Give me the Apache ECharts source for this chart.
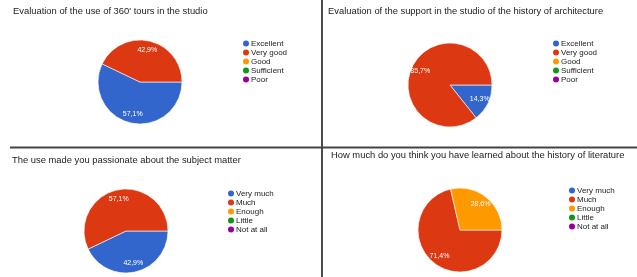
<!DOCTYPE html>
<html><head><meta charset="utf-8">
<script src="https://cdn.jsdelivr.net/npm/echarts@6/dist/echarts.min.js"></script>
<style>html,body{margin:0;padding:0;background:#fff}#c{width:637px;height:277px}</style>
</head><body><div id="c"></div>
<script>
const titles = [
  "Evaluation of the use of 360' tours in the studio",
  "Evaluation of the support in the studio of the history of architecture",
  "The use made you passionate about the subject matter",
  "How much do you think you have learned about the history of literature"
];
const categoriesA = ["Excellent", "Very good", "Good", "Sufficient", "Poor"];
const categoriesB = ["Very much", "Much", "Enough", "Little", "Not at all"];
const values1 = [57.1, 42.9, 0, 0, 0];
const values2 = [14.3, 85.7, 0, 0, 0];
const values3 = [42.9, 57.1, 0, 0, 0];
const values4 = [0, 71.4, 28.6, 0, 0];
const colors = ["#3366CC", "#DC3912", "#FF9900", "#109618", "#990099"];

const panels = [
  {cats: categoriesA, vals: values1, center: [140, 82], title: [13, 7], legend: [243, 39]},
  {cats: categoriesA, vals: values2, center: [450, 85], title: [328, 7], legend: [553, 39]},
  {cats: categoriesB, vals: values3, center: [126, 231], title: [12, 156], legend: [228, 189]},
  {cats: categoriesB, vals: values4, center: [460, 230], title: [331, 151], legend: [569, 186]}
];
const FONT = "Liberation Sans";
const R = 42;
const option = {
  animation: false,
  color: colors,
  title: panels.map((p, i) => ({
    text: titles[i], left: p.title[0], top: p.title[1], padding: 0,
    textStyle: {fontFamily: FONT, fontSize: 9.4, fontWeight: 'normal', color: '#222'}
  })),
  legend: panels.map(p => ({
    orient: 'vertical', left: p.legend[0], top: p.legend[1],
    data: p.cats, icon: 'circle', itemWidth: 6, itemHeight: 6, itemGap: 0,
    selectedMode: false, padding: 0,
    itemStyle: {borderWidth: 0},
    textStyle: {fontFamily: FONT, fontSize: 8, color: '#222', padding: [0, 0, 0, -3], lineHeight: 9}
  })),
  graphic: [
    {type: 'line', shape: {x1: 322, y1: 0, x2: 322, y2: 277}, style: {stroke: '#111', lineWidth: 1.5}},
    {type: 'line', shape: {x1: 10, y1: 147.5, x2: 637, y2: 147.5}, style: {stroke: '#444', lineWidth: 2}}
  ],
  series: []
};
panels.forEach(p => {
  const data = p.cats.map((c, j) => ({
    name: c, value: p.vals[j],
    itemStyle: {color: colors[j], borderColor: '#fff', borderWidth: p.vals[j] > 0 ? 0.6 : 0}
  }));
  option.series.push({
    type: 'pie', center: p.center, radius: [0, R], startAngle: 0, clockwise: true,
    silent: true, label: {show: false}, labelLine: {show: false}, data: data
  });
  option.series.push({
    type: 'pie', center: p.center, radius: [18, R], startAngle: 0, clockwise: true,
    silent: true, labelLine: {show: false},
    itemStyle: {color: 'rgba(0,0,0,0)', borderWidth: 0},
    label: {show: true, position: 'inside', color: '#fff', fontSize: 7, fontFamily: FONT,
      formatter: prm => prm.value > 0 ? prm.value.toFixed(1).replace('.', ',') + '%' : ''},
    data: p.cats.map((c, j) => ({name: c, value: p.vals[j], itemStyle: {color: 'rgba(0,0,0,0)'}}))
  });
});
const chart = echarts.init(document.getElementById('c'), null, {renderer: 'canvas'});
chart.setOption(option);
</script></body></html>
